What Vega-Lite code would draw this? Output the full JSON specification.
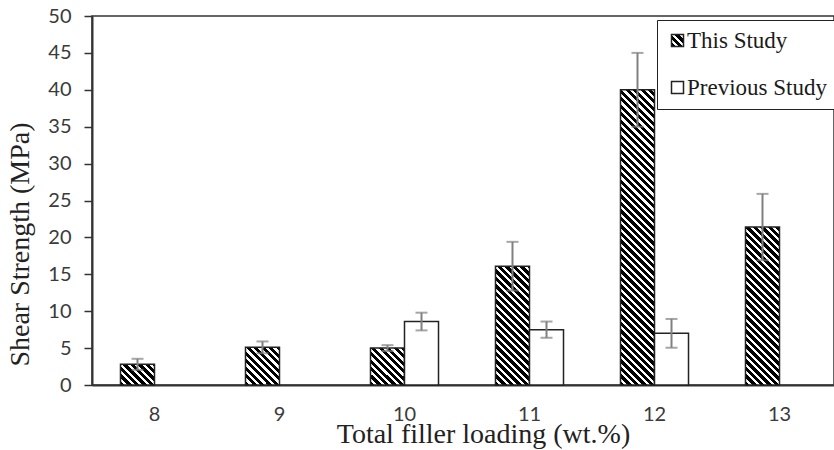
{
  "$schema": "https://vega.github.io/schema/vega-lite/v6.json",
  "width": 742,
  "height": 369,
  "autosize": {"type": "none"},
  "padding": {"left": 92, "top": 16, "right": 0, "bottom": 65},
  "background": "white",
  "config": {"view": {"stroke": "#333333", "strokeWidth": 1.5}},
  "data": {"values": [
    {"load": "8", "study": "This Study", "value": 2.8, "lo": 2.05, "hi": 3.55},
    {"load": "9", "study": "This Study", "value": 5.1, "lo": 4.3, "hi": 5.9},
    {"load": "10", "study": "This Study", "value": 5.0, "lo": 4.6, "hi": 5.4},
    {"load": "10", "study": "Previous Study", "value": 8.6, "lo": 7.4, "hi": 9.8},
    {"load": "11", "study": "This Study", "value": 16.1, "lo": 12.8, "hi": 19.4},
    {"load": "11", "study": "Previous Study", "value": 7.5, "lo": 6.4, "hi": 8.6},
    {"load": "12", "study": "This Study", "value": 40.0, "lo": 35.0, "hi": 45.0},
    {"load": "12", "study": "Previous Study", "value": 7.0, "lo": 5.05, "hi": 8.95},
    {"load": "13", "study": "This Study", "value": 21.4, "lo": 16.9, "hi": 25.9}
  ]},
  "encoding": {
    "x": {
      "field": "load", "type": "nominal", "sort": ["8", "9", "10", "11", "12", "13"],
      "scale": {"range": [0, 750], "paddingInner": 0, "paddingOuter": 0},
      "axis": {"title": "Total filler loading (wt.%)", "labelAngle": 0, "labelFont": "Lato", "labelFontSize": 20, "labelColor": "#3a3a3a", "labelPadding": 19, "labelOverlap": false, "ticks": false, "domainColor": "#333333", "domainWidth": 2, "titleFont": "Liberation Serif", "titleFontSize": 28, "titleFontWeight": "normal", "titleColor": "#222222", "titleX": 391, "titleY": 57, "titleAlign": "center", "titleBaseline": "alphabetic", "grid": false}
    },
    "xOffset": {"field": "study", "type": "nominal", "scale": {"domain": ["This Study", "Previous Study"], "paddingInner": 0, "paddingOuter": 0.838}}
  },
  "layer": [
    {
      "mark": {"type": "bar", "fillOpacity": 0, "strokeOpacity": 0, "fill": {"gradient": "linear", "id": "hatchsq", "x1": 0, "y1": 1, "x2": 15.615, "y2": -14.615, "stops": [
        {"offset":0,"color":"#000"},{"offset":0.011,"color":"#000"},{"offset":0.011,"color":"#fff"},{"offset":0.02,"color":"#fff"},
        {"offset":0.02,"color":"#000"},{"offset":0.031,"color":"#000"},{"offset":0.031,"color":"#fff"},{"offset":0.04,"color":"#fff"},
        {"offset":0.04,"color":"#000"},{"offset":0.051,"color":"#000"},{"offset":0.051,"color":"#fff"},{"offset":0.06,"color":"#fff"},
        {"offset":0.06,"color":"#000"},{"offset":0.071,"color":"#000"},{"offset":0.071,"color":"#fff"},{"offset":0.08,"color":"#fff"}
      ]}},
      "encoding": {
        "y": {"field": "value", "type": "quantitative", "title": "Shear Strength (MPa)", "scale": {"domain": [0, 50]},
          "axis": {"values": [0, 5, 10, 15, 20, 25, 30, 35, 40, 45, 50], "labelOverlap": false, "labelFlush": false, "labelFont": "Lato", "labelFontSize": 20, "labelColor": "#3a3a3a", "labelPadding": 13, "tickSize": 8, "tickColor": "#333333", "tickWidth": 1.5, "domainColor": "#333333", "domainWidth": 2, "titleFont": "Liberation Serif", "titleFontSize": 28, "titleFontWeight": "normal", "titleColor": "#222222", "titleAngle": 270, "titleX": -64, "titleY": 228, "titleAlign": "center", "titleBaseline": "alphabetic", "grid": false}}
      }
    },
    {
      "mark": {"type": "bar", "stroke": "#222222", "strokeWidth": 1.5},
      "encoding": {
        "y": {"field": "value", "type": "quantitative", "title": "Shear Strength (MPa)", "scale": {"domain": [0, 50]},
          "axis": {"values": [0, 5, 10, 15, 20, 25, 30, 35, 40, 45, 50], "labelOverlap": false, "labelFlush": false, "labelFont": "Lato", "labelFontSize": 20, "labelColor": "#3a3a3a", "labelPadding": 13, "tickSize": 8, "tickColor": "#333333", "tickWidth": 1.5, "domainColor": "#333333", "domainWidth": 2, "titleFont": "Liberation Serif", "titleFontSize": 28, "titleFontWeight": "normal", "titleColor": "#222222", "titleAngle": 270, "titleX": -64, "titleY": 228, "titleAlign": "center", "titleBaseline": "alphabetic", "grid": false}},
        "fill": {
          "condition": [
            {"test": "datum.load == '8' && datum.study == 'This Study'", "value": {"gradient": "linear", "x1": 0, "y1": 1, "x2": 8.05, "y2": -3.8915, "stops": [
              {"offset":0,"color":"#000"},{"offset":0.011,"color":"#000"},{"offset":0.011,"color":"#fff"},{"offset":0.02,"color":"#fff"},
              {"offset":0.02,"color":"#000"},{"offset":0.031,"color":"#000"},{"offset":0.031,"color":"#fff"},{"offset":0.04,"color":"#fff"},
              {"offset":0.04,"color":"#000"},{"offset":0.051,"color":"#000"},{"offset":0.051,"color":"#fff"},{"offset":0.06,"color":"#fff"},
              {"offset":0.06,"color":"#000"},{"offset":0.071,"color":"#000"},{"offset":0.071,"color":"#fff"},{"offset":0.08,"color":"#fff"},
              {"offset":0.08,"color":"#000"},{"offset":0.091,"color":"#000"},{"offset":0.091,"color":"#fff"},{"offset":0.1,"color":"#fff"},
              {"offset":0.1,"color":"#000"},{"offset":0.111,"color":"#000"},{"offset":0.111,"color":"#fff"},{"offset":0.12,"color":"#fff"},
              {"offset":0.12,"color":"#000"},{"offset":0.131,"color":"#000"},{"offset":0.131,"color":"#fff"},{"offset":0.14,"color":"#fff"},
              {"offset":0.14,"color":"#000"},{"offset":0.151,"color":"#000"},{"offset":0.151,"color":"#fff"},{"offset":0.16,"color":"#fff"}
            ]}},
            {"test": "(datum.load == '9' || datum.load == '10') && datum.study == 'This Study'", "value": {"gradient": "linear", "x1": 0, "y1": 1, "x2": 5.002, "y2": -4.488, "stops": [
              {"offset":0,"color":"#000"},{"offset":0.011,"color":"#000"},{"offset":0.011,"color":"#fff"},{"offset":0.02,"color":"#fff"},
              {"offset":0.02,"color":"#000"},{"offset":0.031,"color":"#000"},{"offset":0.031,"color":"#fff"},{"offset":0.04,"color":"#fff"},
              {"offset":0.04,"color":"#000"},{"offset":0.051,"color":"#000"},{"offset":0.051,"color":"#fff"},{"offset":0.06,"color":"#fff"},
              {"offset":0.06,"color":"#000"},{"offset":0.071,"color":"#000"},{"offset":0.071,"color":"#fff"},{"offset":0.08,"color":"#fff"},
              {"offset":0.08,"color":"#000"},{"offset":0.091,"color":"#000"},{"offset":0.091,"color":"#fff"},{"offset":0.1,"color":"#fff"},
              {"offset":0.1,"color":"#000"},{"offset":0.111,"color":"#000"},{"offset":0.111,"color":"#fff"},{"offset":0.12,"color":"#fff"},
              {"offset":0.12,"color":"#000"},{"offset":0.131,"color":"#000"},{"offset":0.131,"color":"#fff"},{"offset":0.14,"color":"#fff"},
              {"offset":0.14,"color":"#000"},{"offset":0.151,"color":"#000"},{"offset":0.151,"color":"#fff"},{"offset":0.16,"color":"#fff"},
              {"offset":0.16,"color":"#000"},{"offset":0.171,"color":"#000"},{"offset":0.171,"color":"#fff"},{"offset":0.18,"color":"#fff"},
              {"offset":0.18,"color":"#000"},{"offset":0.191,"color":"#000"},{"offset":0.191,"color":"#fff"},{"offset":0.2,"color":"#fff"}
            ]}},
            {"test": "datum.load == '11' && datum.study == 'This Study'", "value": {"gradient": "linear", "x1": 0, "y1": 1, "x2": 0.8342, "y2": -1.9154, "stops": [
              {"offset":0,"color":"#000"},{"offset":0.011,"color":"#000"},{"offset":0.011,"color":"#fff"},{"offset":0.02,"color":"#fff"},
              {"offset":0.02,"color":"#000"},{"offset":0.031,"color":"#000"},{"offset":0.031,"color":"#fff"},{"offset":0.04,"color":"#fff"},
              {"offset":0.04,"color":"#000"},{"offset":0.051,"color":"#000"},{"offset":0.051,"color":"#fff"},{"offset":0.06,"color":"#fff"},
              {"offset":0.06,"color":"#000"},{"offset":0.071,"color":"#000"},{"offset":0.071,"color":"#fff"},{"offset":0.08,"color":"#fff"},
              {"offset":0.08,"color":"#000"},{"offset":0.091,"color":"#000"},{"offset":0.091,"color":"#fff"},{"offset":0.1,"color":"#fff"},
              {"offset":0.1,"color":"#000"},{"offset":0.111,"color":"#000"},{"offset":0.111,"color":"#fff"},{"offset":0.12,"color":"#fff"},
              {"offset":0.12,"color":"#000"},{"offset":0.131,"color":"#000"},{"offset":0.131,"color":"#fff"},{"offset":0.14,"color":"#fff"},
              {"offset":0.14,"color":"#000"},{"offset":0.151,"color":"#000"},{"offset":0.151,"color":"#fff"},{"offset":0.16,"color":"#fff"},
              {"offset":0.16,"color":"#000"},{"offset":0.171,"color":"#000"},{"offset":0.171,"color":"#fff"},{"offset":0.18,"color":"#fff"},
              {"offset":0.18,"color":"#000"},{"offset":0.191,"color":"#000"},{"offset":0.191,"color":"#fff"},{"offset":0.2,"color":"#fff"},
              {"offset":0.2,"color":"#000"},{"offset":0.211,"color":"#000"},{"offset":0.211,"color":"#fff"},{"offset":0.22,"color":"#fff"},
              {"offset":0.22,"color":"#000"},{"offset":0.231,"color":"#000"},{"offset":0.231,"color":"#fff"},{"offset":0.24,"color":"#fff"},
              {"offset":0.24,"color":"#000"},{"offset":0.251,"color":"#000"},{"offset":0.251,"color":"#fff"},{"offset":0.26,"color":"#fff"},
              {"offset":0.26,"color":"#000"},{"offset":0.271,"color":"#000"},{"offset":0.271,"color":"#fff"},{"offset":0.28,"color":"#fff"},
              {"offset":0.28,"color":"#000"},{"offset":0.291,"color":"#000"},{"offset":0.291,"color":"#fff"},{"offset":0.3,"color":"#fff"},
              {"offset":0.3,"color":"#000"},{"offset":0.311,"color":"#000"},{"offset":0.311,"color":"#fff"},{"offset":0.32,"color":"#fff"},
              {"offset":0.32,"color":"#000"},{"offset":0.331,"color":"#000"},{"offset":0.331,"color":"#fff"},{"offset":0.34,"color":"#fff"},
              {"offset":0.34,"color":"#000"},{"offset":0.351,"color":"#000"},{"offset":0.351,"color":"#fff"},{"offset":0.36,"color":"#fff"},
              {"offset":0.36,"color":"#000"},{"offset":0.371,"color":"#000"},{"offset":0.371,"color":"#fff"},{"offset":0.38,"color":"#fff"},
              {"offset":0.38,"color":"#000"},{"offset":0.391,"color":"#000"},{"offset":0.391,"color":"#fff"},{"offset":0.4,"color":"#fff"},
              {"offset":0.4,"color":"#000"},{"offset":0.411,"color":"#000"},{"offset":0.411,"color":"#fff"},{"offset":0.42,"color":"#fff"}
            ]}},
            {"test": "datum.load == '12' && datum.study == 'This Study'", "value": {"gradient": "linear", "x1": 0, "y1": 1, "x2": 0.14431, "y2": -0.25292, "stops": [
              {"offset":0,"color":"#000"},{"offset":0.011,"color":"#000"},{"offset":0.011,"color":"#fff"},{"offset":0.02,"color":"#fff"},
              {"offset":0.02,"color":"#000"},{"offset":0.031,"color":"#000"},{"offset":0.031,"color":"#fff"},{"offset":0.04,"color":"#fff"},
              {"offset":0.04,"color":"#000"},{"offset":0.051,"color":"#000"},{"offset":0.051,"color":"#fff"},{"offset":0.06,"color":"#fff"},
              {"offset":0.06,"color":"#000"},{"offset":0.071,"color":"#000"},{"offset":0.071,"color":"#fff"},{"offset":0.08,"color":"#fff"},
              {"offset":0.08,"color":"#000"},{"offset":0.091,"color":"#000"},{"offset":0.091,"color":"#fff"},{"offset":0.1,"color":"#fff"},
              {"offset":0.1,"color":"#000"},{"offset":0.111,"color":"#000"},{"offset":0.111,"color":"#fff"},{"offset":0.12,"color":"#fff"},
              {"offset":0.12,"color":"#000"},{"offset":0.131,"color":"#000"},{"offset":0.131,"color":"#fff"},{"offset":0.14,"color":"#fff"},
              {"offset":0.14,"color":"#000"},{"offset":0.151,"color":"#000"},{"offset":0.151,"color":"#fff"},{"offset":0.16,"color":"#fff"},
              {"offset":0.16,"color":"#000"},{"offset":0.171,"color":"#000"},{"offset":0.171,"color":"#fff"},{"offset":0.18,"color":"#fff"},
              {"offset":0.18,"color":"#000"},{"offset":0.191,"color":"#000"},{"offset":0.191,"color":"#fff"},{"offset":0.2,"color":"#fff"},
              {"offset":0.2,"color":"#000"},{"offset":0.211,"color":"#000"},{"offset":0.211,"color":"#fff"},{"offset":0.22,"color":"#fff"},
              {"offset":0.22,"color":"#000"},{"offset":0.231,"color":"#000"},{"offset":0.231,"color":"#fff"},{"offset":0.24,"color":"#fff"},
              {"offset":0.24,"color":"#000"},{"offset":0.251,"color":"#000"},{"offset":0.251,"color":"#fff"},{"offset":0.26,"color":"#fff"},
              {"offset":0.26,"color":"#000"},{"offset":0.271,"color":"#000"},{"offset":0.271,"color":"#fff"},{"offset":0.28,"color":"#fff"},
              {"offset":0.28,"color":"#000"},{"offset":0.291,"color":"#000"},{"offset":0.291,"color":"#fff"},{"offset":0.3,"color":"#fff"},
              {"offset":0.3,"color":"#000"},{"offset":0.311,"color":"#000"},{"offset":0.311,"color":"#fff"},{"offset":0.32,"color":"#fff"},
              {"offset":0.32,"color":"#000"},{"offset":0.331,"color":"#000"},{"offset":0.331,"color":"#fff"},{"offset":0.34,"color":"#fff"},
              {"offset":0.34,"color":"#000"},{"offset":0.351,"color":"#000"},{"offset":0.351,"color":"#fff"},{"offset":0.36,"color":"#fff"},
              {"offset":0.36,"color":"#000"},{"offset":0.371,"color":"#000"},{"offset":0.371,"color":"#fff"},{"offset":0.38,"color":"#fff"},
              {"offset":0.38,"color":"#000"},{"offset":0.391,"color":"#000"},{"offset":0.391,"color":"#fff"},{"offset":0.4,"color":"#fff"},
              {"offset":0.4,"color":"#000"},{"offset":0.411,"color":"#000"},{"offset":0.411,"color":"#fff"},{"offset":0.42,"color":"#fff"},
              {"offset":0.42,"color":"#000"},{"offset":0.431,"color":"#000"},{"offset":0.431,"color":"#fff"},{"offset":0.44,"color":"#fff"},
              {"offset":0.44,"color":"#000"},{"offset":0.451,"color":"#000"},{"offset":0.451,"color":"#fff"},{"offset":0.46,"color":"#fff"},
              {"offset":0.46,"color":"#000"},{"offset":0.471,"color":"#000"},{"offset":0.471,"color":"#fff"},{"offset":0.48,"color":"#fff"},
              {"offset":0.48,"color":"#000"},{"offset":0.491,"color":"#000"},{"offset":0.491,"color":"#fff"},{"offset":0.5,"color":"#fff"},
              {"offset":0.5,"color":"#000"},{"offset":0.511,"color":"#000"},{"offset":0.511,"color":"#fff"},{"offset":0.52,"color":"#fff"},
              {"offset":0.52,"color":"#000"},{"offset":0.531,"color":"#000"},{"offset":0.531,"color":"#fff"},{"offset":0.54,"color":"#fff"},
              {"offset":0.54,"color":"#000"},{"offset":0.551,"color":"#000"},{"offset":0.551,"color":"#fff"},{"offset":0.56,"color":"#fff"},
              {"offset":0.56,"color":"#000"},{"offset":0.571,"color":"#000"},{"offset":0.571,"color":"#fff"},{"offset":0.58,"color":"#fff"},
              {"offset":0.58,"color":"#000"},{"offset":0.591,"color":"#000"},{"offset":0.591,"color":"#fff"},{"offset":0.6,"color":"#fff"},
              {"offset":0.6,"color":"#000"},{"offset":0.611,"color":"#000"},{"offset":0.611,"color":"#fff"},{"offset":0.62,"color":"#fff"},
              {"offset":0.62,"color":"#000"},{"offset":0.631,"color":"#000"},{"offset":0.631,"color":"#fff"},{"offset":0.64,"color":"#fff"},
              {"offset":0.64,"color":"#000"},{"offset":0.651,"color":"#000"},{"offset":0.651,"color":"#fff"},{"offset":0.66,"color":"#fff"},
              {"offset":0.66,"color":"#000"},{"offset":0.671,"color":"#000"},{"offset":0.671,"color":"#fff"},{"offset":0.68,"color":"#fff"},
              {"offset":0.68,"color":"#000"},{"offset":0.691,"color":"#000"},{"offset":0.691,"color":"#fff"},{"offset":0.7,"color":"#fff"},
              {"offset":0.7,"color":"#000"},{"offset":0.711,"color":"#000"},{"offset":0.711,"color":"#fff"},{"offset":0.72,"color":"#fff"},
              {"offset":0.72,"color":"#000"},{"offset":0.731,"color":"#000"},{"offset":0.731,"color":"#fff"},{"offset":0.74,"color":"#fff"},
              {"offset":0.74,"color":"#000"},{"offset":0.751,"color":"#000"},{"offset":0.751,"color":"#fff"},{"offset":0.76,"color":"#fff"},
              {"offset":0.76,"color":"#000"},{"offset":0.771,"color":"#000"},{"offset":0.771,"color":"#fff"},{"offset":0.78,"color":"#fff"},
              {"offset":0.78,"color":"#000"},{"offset":0.791,"color":"#000"},{"offset":0.791,"color":"#fff"},{"offset":0.8,"color":"#fff"},
              {"offset":0.8,"color":"#000"},{"offset":0.811,"color":"#000"},{"offset":0.811,"color":"#fff"},{"offset":0.82,"color":"#fff"},
              {"offset":0.82,"color":"#000"},{"offset":0.831,"color":"#000"},{"offset":0.831,"color":"#fff"},{"offset":0.84,"color":"#fff"},
              {"offset":0.84,"color":"#000"},{"offset":0.851,"color":"#000"},{"offset":0.851,"color":"#fff"},{"offset":0.86,"color":"#fff"},
              {"offset":0.86,"color":"#000"},{"offset":0.871,"color":"#000"},{"offset":0.871,"color":"#fff"},{"offset":0.88,"color":"#fff"}
            ]}},
            {"test": "datum.load == '13' && datum.study == 'This Study'", "value": {"gradient": "linear", "x1": 0, "y1": 1, "x2": 0.48825, "y2": -1.26788, "stops": [
              {"offset":0,"color":"#000"},{"offset":0.011,"color":"#000"},{"offset":0.011,"color":"#fff"},{"offset":0.02,"color":"#fff"},
              {"offset":0.02,"color":"#000"},{"offset":0.031,"color":"#000"},{"offset":0.031,"color":"#fff"},{"offset":0.04,"color":"#fff"},
              {"offset":0.04,"color":"#000"},{"offset":0.051,"color":"#000"},{"offset":0.051,"color":"#fff"},{"offset":0.06,"color":"#fff"},
              {"offset":0.06,"color":"#000"},{"offset":0.071,"color":"#000"},{"offset":0.071,"color":"#fff"},{"offset":0.08,"color":"#fff"},
              {"offset":0.08,"color":"#000"},{"offset":0.091,"color":"#000"},{"offset":0.091,"color":"#fff"},{"offset":0.1,"color":"#fff"},
              {"offset":0.1,"color":"#000"},{"offset":0.111,"color":"#000"},{"offset":0.111,"color":"#fff"},{"offset":0.12,"color":"#fff"},
              {"offset":0.12,"color":"#000"},{"offset":0.131,"color":"#000"},{"offset":0.131,"color":"#fff"},{"offset":0.14,"color":"#fff"},
              {"offset":0.14,"color":"#000"},{"offset":0.151,"color":"#000"},{"offset":0.151,"color":"#fff"},{"offset":0.16,"color":"#fff"},
              {"offset":0.16,"color":"#000"},{"offset":0.171,"color":"#000"},{"offset":0.171,"color":"#fff"},{"offset":0.18,"color":"#fff"},
              {"offset":0.18,"color":"#000"},{"offset":0.191,"color":"#000"},{"offset":0.191,"color":"#fff"},{"offset":0.2,"color":"#fff"},
              {"offset":0.2,"color":"#000"},{"offset":0.211,"color":"#000"},{"offset":0.211,"color":"#fff"},{"offset":0.22,"color":"#fff"},
              {"offset":0.22,"color":"#000"},{"offset":0.231,"color":"#000"},{"offset":0.231,"color":"#fff"},{"offset":0.24,"color":"#fff"},
              {"offset":0.24,"color":"#000"},{"offset":0.251,"color":"#000"},{"offset":0.251,"color":"#fff"},{"offset":0.26,"color":"#fff"},
              {"offset":0.26,"color":"#000"},{"offset":0.271,"color":"#000"},{"offset":0.271,"color":"#fff"},{"offset":0.28,"color":"#fff"},
              {"offset":0.28,"color":"#000"},{"offset":0.291,"color":"#000"},{"offset":0.291,"color":"#fff"},{"offset":0.3,"color":"#fff"},
              {"offset":0.3,"color":"#000"},{"offset":0.311,"color":"#000"},{"offset":0.311,"color":"#fff"},{"offset":0.32,"color":"#fff"},
              {"offset":0.32,"color":"#000"},{"offset":0.331,"color":"#000"},{"offset":0.331,"color":"#fff"},{"offset":0.34,"color":"#fff"},
              {"offset":0.34,"color":"#000"},{"offset":0.351,"color":"#000"},{"offset":0.351,"color":"#fff"},{"offset":0.36,"color":"#fff"},
              {"offset":0.36,"color":"#000"},{"offset":0.371,"color":"#000"},{"offset":0.371,"color":"#fff"},{"offset":0.38,"color":"#fff"},
              {"offset":0.38,"color":"#000"},{"offset":0.391,"color":"#000"},{"offset":0.391,"color":"#fff"},{"offset":0.4,"color":"#fff"},
              {"offset":0.4,"color":"#000"},{"offset":0.411,"color":"#000"},{"offset":0.411,"color":"#fff"},{"offset":0.42,"color":"#fff"},
              {"offset":0.42,"color":"#000"},{"offset":0.431,"color":"#000"},{"offset":0.431,"color":"#fff"},{"offset":0.44,"color":"#fff"},
              {"offset":0.44,"color":"#000"},{"offset":0.451,"color":"#000"},{"offset":0.451,"color":"#fff"},{"offset":0.46,"color":"#fff"},
              {"offset":0.46,"color":"#000"},{"offset":0.471,"color":"#000"},{"offset":0.471,"color":"#fff"},{"offset":0.48,"color":"#fff"},
              {"offset":0.48,"color":"#000"},{"offset":0.491,"color":"#000"},{"offset":0.491,"color":"#fff"},{"offset":0.5,"color":"#fff"},
              {"offset":0.5,"color":"#000"},{"offset":0.511,"color":"#000"},{"offset":0.511,"color":"#fff"},{"offset":0.52,"color":"#fff"}
            ]}}
          ],
          "field": "study", "type": "nominal",
          "scale": {"domain": ["This Study", "Previous Study"], "range": ["url(#hatchsq)", "#ffffff"]},
          "legend": {"orient": "none", "legendX": 565, "legendY": 4, "title": null, "direction": "vertical", "symbolType": "square", "symbolSize": 144, "symbolStrokeColor": "#222222", "symbolStrokeWidth": 1.5, "labelFont": "Liberation Serif", "labelFontSize": 23, "labelColor": "#1a1a1a", "labelOffset": -2, "rowPadding": 23, "padding": 9, "strokeColor": "#222222", "fillColor": "#ffffff", "labelLimit": 300}
        }
      }
    },
    {
      "mark": {"type": "rule", "color": "#808080", "strokeWidth": 2},
      "encoding": {
        "y": {"field": "lo", "type": "quantitative", "title": "Shear Strength (MPa)",
          "axis": {"values": [0, 5, 10, 15, 20, 25, 30, 35, 40, 45, 50], "labelOverlap": false, "labelFlush": false, "labelFont": "Lato", "labelFontSize": 20, "labelColor": "#3a3a3a", "labelPadding": 13, "tickSize": 8, "tickColor": "#333333", "tickWidth": 1.5, "domainColor": "#333333", "domainWidth": 2, "titleFont": "Liberation Serif", "titleFontSize": 28, "titleFontWeight": "normal", "titleColor": "#222222", "titleAngle": 270, "titleX": -64, "titleY": 228, "titleAlign": "center", "titleBaseline": "alphabetic", "grid": false}},
        "y2": {"field": "hi"}
      }
    },
    {
      "mark": {"type": "tick", "color": "#808080", "thickness": 2, "size": 12},
      "encoding": {"y": {"field": "lo", "type": "quantitative", "title": "Shear Strength (MPa)",
          "axis": {"values": [0, 5, 10, 15, 20, 25, 30, 35, 40, 45, 50], "labelOverlap": false, "labelFlush": false, "labelFont": "Lato", "labelFontSize": 20, "labelColor": "#3a3a3a", "labelPadding": 13, "tickSize": 8, "tickColor": "#333333", "tickWidth": 1.5, "domainColor": "#333333", "domainWidth": 2, "titleFont": "Liberation Serif", "titleFontSize": 28, "titleFontWeight": "normal", "titleColor": "#222222", "titleAngle": 270, "titleX": -64, "titleY": 228, "titleAlign": "center", "titleBaseline": "alphabetic", "grid": false}}}
    },
    {
      "mark": {"type": "tick", "color": "#808080", "thickness": 2, "size": 12},
      "encoding": {"y": {"field": "hi", "type": "quantitative", "title": "Shear Strength (MPa)",
          "axis": {"values": [0, 5, 10, 15, 20, 25, 30, 35, 40, 45, 50], "labelOverlap": false, "labelFlush": false, "labelFont": "Lato", "labelFontSize": 20, "labelColor": "#3a3a3a", "labelPadding": 13, "tickSize": 8, "tickColor": "#333333", "tickWidth": 1.5, "domainColor": "#333333", "domainWidth": 2, "titleFont": "Liberation Serif", "titleFontSize": 28, "titleFontWeight": "normal", "titleColor": "#222222", "titleAngle": 270, "titleX": -64, "titleY": 228, "titleAlign": "center", "titleBaseline": "alphabetic", "grid": false}}}
    }
  ]
}
